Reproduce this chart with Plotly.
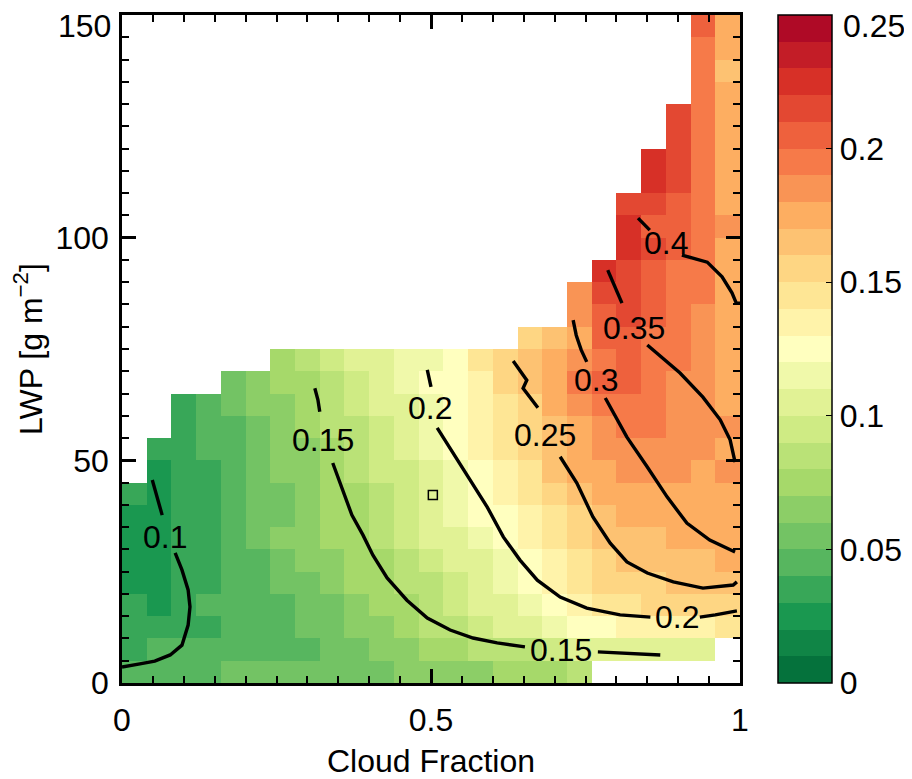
import plotly.graph_objects as go
from plotly.colors import get_colorscale, sample_colorscale

N = None

# bin centres
cloud_fraction = [0.02, 0.06, 0.10, 0.14, 0.18, 0.22, 0.26, 0.30, 0.34, 0.38, 0.42, 0.46, 0.50,
                  0.54, 0.58, 0.62, 0.66, 0.70, 0.74, 0.78, 0.82, 0.86, 0.90, 0.94, 0.98]
lwp = [2.5, 7.5, 12.5, 17.5, 22.5, 27.5, 32.5, 37.5, 42.5, 47.5, 52.5, 57.5, 62.5, 67.5, 72.5,
       77.5, 82.5, 87.5, 92.5, 97.5, 102.5, 107.5, 112.5, 117.5, 122.5, 127.5, 132.5, 137.5,
       142.5, 147.5]

# colour value in hundredths, bottom row (LWP 0-5) first
levels = [
    [4, 4, 4, 4, 5, 5, 5, 5, 5, 5, 5, 6, 6, 6, 6, 7, 7, 7, 8, N, N, N, N, N, N],
    [3, 4, 4, 4, 4, 4, 4, 4, 5, 5, 6, 6, 7, 7, 8, 8, 8, 9, 10, 10, 10, 10, 10, 10, N],
    [3, 3, 3, 3, 4, 4, 4, 5, 5, 6, 6, 7, 8, 8, 9, 10, 10, 11, 12, 12, 13, 13, 13, 13, 14],
    [3, 2, 3, 4, 4, 4, 4, 5, 5, 6, 7, 7, 8, 9, 10, 10, 11, 12, 13, 14, 14, 15, 15, 15, 15],
    [2, 2, 3, 3, 4, 4, 5, 5, 6, 7, 7, 8, 8, 9, 10, 11, 12, 13, 14, 15, 15, 15, 16, 16, 16],
    [2, 2, 3, 3, 4, 4, 5, 6, 6, 7, 7, 8, 9, 10, 10, 11, 12, 13, 14, 15, 16, 16, 16, 16, 17],
    [2, 2, 3, 3, 4, 5, 6, 6, 7, 7, 8, 9, 10, 10, 11, 12, 13, 14, 15, 16, 16, 16, 17, 17, 17],
    [2, 2, 3, 3, 4, 5, 5, 6, 7, 7, 8, 9, 10, 11, 12, 12, 13, 14, 15, 16, 17, 17, 17, 17, 17],
    [3, 2, 3, 3, 4, 5, 5, 6, 7, 7, 8, 9, 10, 11, 12, 13, 14, 15, 16, 17, 17, 17, 17, 17, 17],
    [N, 2, 3, 3, 4, 5, 6, 6, 7, 8, 9, 9, 10, 11, 12, 13, 14, 16, 17, 17, 18, 18, 18, 17, 18],
    [N, 3, 3, 4, 4, 5, 6, 6, 7, 8, 9, 10, 11, 12, 13, 14, 15, 16, 17, 18, 18, 18, 18, 18, 17],
    [N, N, 3, 4, 4, 5, 6, 7, 8, 8, 9, 10, 11, 12, 13, 14, 15, 16, 17, 18, 19, 19, 18, 18, 18],
    [N, N, 3, 4, 5, 6, 6, 7, 8, 9, 10, 10, 11, 12, 13, 14, 15, 17, 18, 19, 19, 19, 18, 18, 17],
    [N, N, N, N, 5, 6, 7, 7, 8, 9, 10, 11, 12, 12, 13, 15, 16, 17, 19, 20, 20, 19, 18, 18, 17],
    [N, N, N, N, N, N, 7, 8, 9, 10, 10, 11, 11, 12, 14, 15, 16, 17, 18, 19, 20, 19, 19, 18, 17],
    [N, N, N, N, N, N, N, N, N, N, N, N, N, N, N, N, 15, 16, 17, 20, 20, 19, 19, 18, 17],
    [N, N, N, N, N, N, N, N, N, N, N, N, N, N, N, N, N, N, 18, 20, 21, 20, 19, 18, 17],
    [N, N, N, N, N, N, N, N, N, N, N, N, N, N, N, N, N, N, 18, 21, 21, 20, 19, 19, 17],
    [N, N, N, N, N, N, N, N, N, N, N, N, N, N, N, N, N, N, N, 22, 21, 20, 19, 19, 17],
    [N, N, N, N, N, N, N, N, N, N, N, N, N, N, N, N, N, N, N, N, 22, 21, 20, 19, 17],
    [N, N, N, N, N, N, N, N, N, N, N, N, N, N, N, N, N, N, N, N, 22, 20, 20, 19, 18],
    [N, N, N, N, N, N, N, N, N, N, N, N, N, N, N, N, N, N, N, N, 21, 21, 20, 19, 17],
    [N, N, N, N, N, N, N, N, N, N, N, N, N, N, N, N, N, N, N, N, N, 22, 21, 19, 17],
    [N, N, N, N, N, N, N, N, N, N, N, N, N, N, N, N, N, N, N, N, N, 22, 21, 19, 17],
    [N, N, N, N, N, N, N, N, N, N, N, N, N, N, N, N, N, N, N, N, N, N, 21, 19, 17],
    [N, N, N, N, N, N, N, N, N, N, N, N, N, N, N, N, N, N, N, N, N, N, 21, 19, 17],
    [N, N, N, N, N, N, N, N, N, N, N, N, N, N, N, N, N, N, N, N, N, N, N, 19, 17],
    [N, N, N, N, N, N, N, N, N, N, N, N, N, N, N, N, N, N, N, N, N, N, N, 19, 16],
    [N, N, N, N, N, N, N, N, N, N, N, N, N, N, N, N, N, N, N, N, N, N, N, 19, 17],
    [N, N, N, N, N, N, N, N, N, N, N, N, N, N, N, N, N, N, N, N, N, N, N, 20, 17],
]

# contour lines, (cloud fraction, LWP) per segment
contour_010 = [
    ([0.049, 0.057, 0.065], [45.6, 41.5, 37.7]),
    ([0.086, 0.097, 0.107, 0.110, 0.107, 0.097, 0.078, 0.053, 0.029, 0.0],
     [29.2, 25.4, 20.9, 17.1, 13.0, 8.5, 6.3, 4.9, 4.3, 3.6]),
]
contour_015 = [
    ([0.312, 0.317, 0.320], [66.2, 63.6, 60.9]),
    ([0.341, 0.358, 0.372, 0.390, 0.406, 0.429, 0.461, 0.494, 0.531, 0.568, 0.607, 0.652],
     [49.4, 42.7, 37.7, 33.2, 28.7, 23.6, 18.6, 14.6, 11.9, 10.1, 9.0, 8.1]),
    ([0.770, 0.82, 0.871], [7.0, 6.7, 6.3]),
]
contour_020 = [
    ([0.494, 0.500], [70.3, 66.5]),
    ([0.510, 0.536, 0.563, 0.591, 0.617, 0.644, 0.672, 0.709, 0.752, 0.806, 0.855],
     [57.3, 51.6, 45.6, 39.5, 32.8, 27.6, 23.1, 19.3, 16.8, 15.3, 14.8]),
    ([0.935, 0.960, 0.995], [14.8, 15.3, 16.2]),
]
contour_025 = [
    ([0.633, 0.655, 0.649, 0.673], [72.3, 68.0, 66.2, 61.8]),
    ([0.709, 0.736, 0.762, 0.790, 0.817, 0.850, 0.892, 0.940, 0.989, 0.995],
     [50.8, 44.9, 37.3, 31.4, 27.2, 24.7, 22.7, 21.3, 22.0, 22.7]),
]
contour_030 = [
    ([0.730, 0.735, 0.743, 0.752], [81.5, 78.1, 74.8, 72.1]),
    ([0.782, 0.817, 0.850, 0.882, 0.914, 0.951, 0.992], [64.0, 55.2, 48.5, 41.8, 35.9, 32.1, 29.4]),
]
contour_035 = [
    ([0.786, 0.798, 0.809], [92.7, 88.9, 85.3]),
    ([0.850, 0.879, 0.903, 0.940, 0.968, 0.984, 0.992], [75.9, 72.5, 69.6, 64.2, 59.1, 54.6, 49.6]),
]
contour_040 = [
    ([0.835, 0.854], [104.4, 101.7]),
    ([0.906, 0.947, 0.971, 0.987, 0.994, 1.0], [96.1, 94.5, 91.2, 87.6, 85.3, 85.3]),
]

label_text = ['0.1', '0.15', '0.15', '0.2', '0.2', '0.25', '0.3', '0.35', '0.4']
label_cf = [0.070, 0.325, 0.711, 0.498, 0.898, 0.684, 0.767, 0.829, 0.881]
label_lwp = [32.8, 54.6, 7.4, 61.8, 14.8, 55.7, 68.0, 79.7, 98.8]

marker_cf = [0.503]
marker_lwp = [42.2]

y_ticks = [0, 50, 100, 150]
cbar_ticks = [0, 0.05, 0.1, 0.15, 0.2, 0.25]
cbar_text = ['0', '0.05', '0.1', '0.15', '0.2', '0.25']

# discrete 25-step RdYlGn, green at the low end
n_steps = 25
base = get_colorscale('RdYlGn')
step_colors = sample_colorscale(base, [1 - (i + 0.5) / n_steps for i in range(n_steps)])
colorscale = []
for i, c in enumerate(step_colors):
    colorscale.append([i / n_steps, c])
    colorscale.append([(i + 1) / n_steps, c])

z = [[None if v is None else v / 100 + 0.005 for v in row] for row in levels]

fig = go.Figure()
fig.add_trace(go.Heatmap(
    x=cloud_fraction, y=lwp, z=z,
    zmin=0, zmax=0.25, colorscale=colorscale, hoverongaps=False,
    colorbar=dict(
        x=1.061, xanchor='left', y=0.5, yanchor='middle',
        len=1, thickness=54, xpad=0, ypad=0,
        outlinewidth=1.5, outlinecolor='black',
        tickvals=cbar_ticks,
        # top label is drawn as an annotation a little lower so it is not cut off
        ticktext=cbar_text[:-1] + [''],
        ticks='inside', ticklen=6, tickcolor='black',
        ticklabeloverflow='allow',
        tickfont=dict(size=32),
    ),
))

for segs in [contour_010, contour_015, contour_020, contour_025,
             contour_030, contour_035, contour_040]:
    for xs, ys in segs:
        fig.add_trace(go.Scatter(x=xs, y=ys, mode='lines',
                                 line=dict(color='black', width=3.4), hoverinfo='skip'))

fig.add_trace(go.Scatter(x=marker_cf, y=marker_lwp, mode='markers',
                         marker=dict(symbol='square-open', size=9, color='black',
                                     line=dict(width=1.5))))

for t, x, y in zip(label_text, label_cf, label_lwp):
    fig.add_annotation(x=x, y=y, text=t, showarrow=False,
                       font=dict(size=32, color='black'))

# top tick labels, nudged down
fig.add_annotation(x=0, xref='paper', y=y_ticks[-1], yref='y', text=str(y_ticks[-1]),
                   xanchor='right', yanchor='middle', xshift=-9, yshift=-11,
                   showarrow=False, font=dict(size=32))
fig.add_annotation(x=1.061 + 54 / 618, xref='paper', y=1, yref='paper', text=cbar_text[-1],
                   xanchor='left', yanchor='middle', xshift=9, yshift=-11,
                   showarrow=False, font=dict(size=32))

fig.update_xaxes(
    range=[0, 1], tickvals=[0, 0.5, 1], ticktext=['0', '0.5', '1'],
    ticks='inside', ticklen=14, tickwidth=2.5, tickcolor='black',
    tickfont=dict(size=32), ticklabelstandoff=7, ticklabeloverflow='allow',
    minor=dict(dtick=0.05, ticks='inside', ticklen=7, tickwidth=2, tickcolor='black'),
    showline=True, linewidth=2.5, linecolor='black', mirror='allticks',
    showgrid=False, zeroline=False, automargin=False,
    title=dict(text='Cloud Fraction', standoff=22, font=dict(size=32)),
)
fig.update_yaxes(
    range=[0, 150], tickvals=y_ticks, ticktext=[str(v) for v in y_ticks[:-1]] + [''],
    ticks='inside', ticklen=14, tickwidth=2.5, tickcolor='black',
    tickfont=dict(size=32), ticklabelstandoff=4, ticklabeloverflow='allow',
    minor=dict(dtick=5, ticks='inside', ticklen=7, tickwidth=2, tickcolor='black'),
    showline=True, linewidth=2.5, linecolor='black', mirror='allticks',
    showgrid=False, zeroline=False, automargin=False,
    title=dict(text='LWP [g m<sup>\u22122</sup>]', standoff=4, font=dict(size=32)),
)

# page body adds ~8px on the top and left, so the figure is drawn 8px smaller
fig.update_layout(
    width=904, height=771,
    margin=dict(l=114, r=172, t=7, b=96, autoexpand=False),
    plot_bgcolor='white', paper_bgcolor='white',
    font=dict(family='Liberation Sans, Arial, sans-serif', size=32, color='black'),
    showlegend=False,
)

fig.write_html("out.html")
